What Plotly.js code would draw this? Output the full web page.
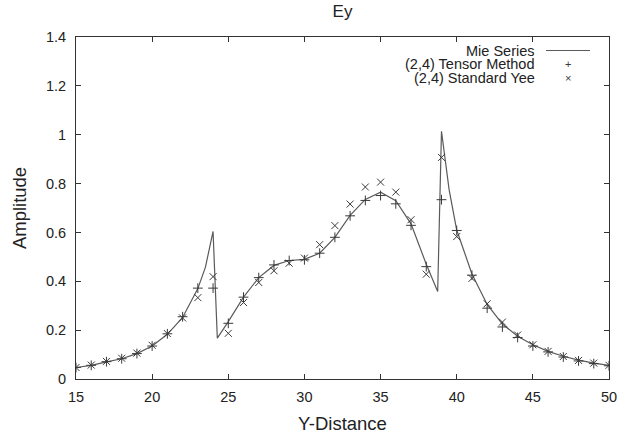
<!DOCTYPE html>
<html>
<head>
<meta charset="utf-8">
<script src="https://cdn.plot.ly/plotly-3.0.1.min.js"></script>
<style>html,body{margin:0;padding:0;background:#fff;}#chart{width:626px;height:434px;}</style>
</head>
<body>
<div id="chart"></div>
<script>
// Mie series (continuous analytic curve)
const mieX = [15,16,17,18,19,20,21,22,23,23.5,24,24.28,25,26,27,28,29,30,31,32,33,34,35,36,37,38,38.75,39,39.5,40,41,42,43,44,45,46,47,48,49,50];
const mieY = [0.047,0.056,0.070,0.083,0.104,0.135,0.183,0.252,0.370,0.458,0.604,0.167,0.235,0.335,0.415,0.465,0.485,0.490,0.515,0.580,0.670,0.735,0.765,0.730,0.635,0.470,0.358,1.014,0.775,0.610,0.430,0.305,0.225,0.175,0.140,0.113,0.093,0.077,0.065,0.056];

// Sample positions
const sampleX = [15,16,17,18,19,20,21,22,23,24,25,26,27,28,29,30,31,32,33,34,35,36,37,38,39,40,41,42,43,44,45,46,47,48,49,50];
// (2,4) Tensor Method
const tensorY = [0.047,0.056,0.071,0.083,0.104,0.135,0.185,0.255,0.372,0.372,0.228,0.335,0.415,0.467,0.485,0.488,0.515,0.580,0.668,0.731,0.751,0.717,0.629,0.460,0.734,0.608,0.425,0.290,0.213,0.170,0.135,0.111,0.090,0.074,0.063,0.054];
// (2,4) Standard Yee
const yeeY = [0.047,0.057,0.072,0.085,0.106,0.138,0.186,0.250,0.333,0.419,0.187,0.313,0.395,0.443,0.474,0.495,0.550,0.628,0.716,0.786,0.806,0.765,0.652,0.429,0.907,0.583,0.412,0.308,0.233,0.180,0.140,0.113,0.092,0.076,0.065,0.056];

const xTicks = [15,20,25,30,35,40,45,50];
const yTicks = [0,0.2,0.4,0.6,0.8,1,1.2,1.4];
const yTickText = ['0','0.2','0.4','0.6','0.8','1','1.2','1.4'];
const legendNames = ['Mie Series','(2,4) Tensor Method','(2,4) Standard Yee'];

const FONT = 'Liberation Sans, Arial, sans-serif';
const INK = '#3a3a3a';
const TXT = '#222';

const traces = [
  {x: mieX, y: mieY, mode:'lines', name: legendNames[0], line:{color:'#5a5a5a', width:1.2}, showlegend:false},
  {x: sampleX, y: tensorY, mode:'markers', name: legendNames[1], marker:{symbol:'cross-thin-open', size:7, color:INK, line:{color:INK, width:1}}, showlegend:false},
  {x: sampleX, y: yeeY, mode:'markers', name: legendNames[2], marker:{symbol:'x-thin-open', size:7, color:INK, line:{color:INK, width:1}}, showlegend:false}
];

const axisCommon = {
  showline:true, linecolor:'#333', linewidth:1, mirror:'ticks',
  ticks:'inside', ticklen:5, tickcolor:'#333', showgrid:false, zeroline:false,
  tickfont:{family:FONT, size:14.5, color:TXT}
};

const legY = [50.5, 64, 77.5]; // pixel rows for the key
const FIG_H = 434, M_TOP = 37, M_BOTTOM = 55;
const FIG_W = 626, M_LEFT = 76, M_RIGHT = 17;
const toPaperY = py => 1 - (py - M_TOP) / (FIG_H - M_TOP - M_BOTTOM);
const toPaperX = px => (px - M_LEFT) / (FIG_W - M_LEFT - M_RIGHT);

const annotations = legendNames.map((t,i)=>({
  xref:'paper', yref:'paper', x: toPaperX(537), y: toPaperY(legY[i]),
  xanchor:'right', yanchor:'middle', showarrow:false, text:t,
  font:{family:FONT, size:14.5, color:TXT}
}));
annotations.push({xref:'paper', yref:'paper', x: toPaperX(568), y: toPaperY(legY[1]), xanchor:'center', yanchor:'middle', showarrow:false, text:'+', font:{family:FONT, size:11, color:INK}});
annotations.push({xref:'paper', yref:'paper', x: toPaperX(568), y: toPaperY(legY[2]), xanchor:'center', yanchor:'middle', showarrow:false, text:'×', font:{family:FONT, size:11, color:INK}});

const layout = {
  width:FIG_W, height:FIG_H,
  margin:{l:M_LEFT, r:M_RIGHT, t:M_TOP, b:M_BOTTOM},
  paper_bgcolor:'#fff', plot_bgcolor:'#fff',
  title:{text:'Ey', font:{family:FONT, size:17, color:TXT}, x:0.5, xref:'paper', y:1-11/FIG_H, yanchor:'middle'},
  xaxis:Object.assign({}, axisCommon, {range:[15,50], tickvals:xTicks, ticktext:xTicks.map(String),
    ticklabelstandoff:5,
    title:{text:'Y-Distance', font:{family:FONT, size:18.5, color:TXT}, standoff:12}}),
  yaxis:Object.assign({}, axisCommon, {range:[0,1.4], tickvals:yTicks, ticktext:yTickText,
    ticklabelstandoff:6,
    title:{text:'Amplitude', font:{family:FONT, size:18.5, color:TXT}, standoff:14}}),
  shapes:[{type:'line', xref:'paper', yref:'paper', x0:toPaperX(546), x1:toPaperX(590), y0:toPaperY(legY[0]), y1:toPaperY(legY[0]), line:{color:'#5a5a5a', width:1.2}}],
  annotations: annotations
};

Plotly.newPlot('chart', traces, layout, {staticPlot:true, displayModeBar:false});
</script>
</body>
</html>
